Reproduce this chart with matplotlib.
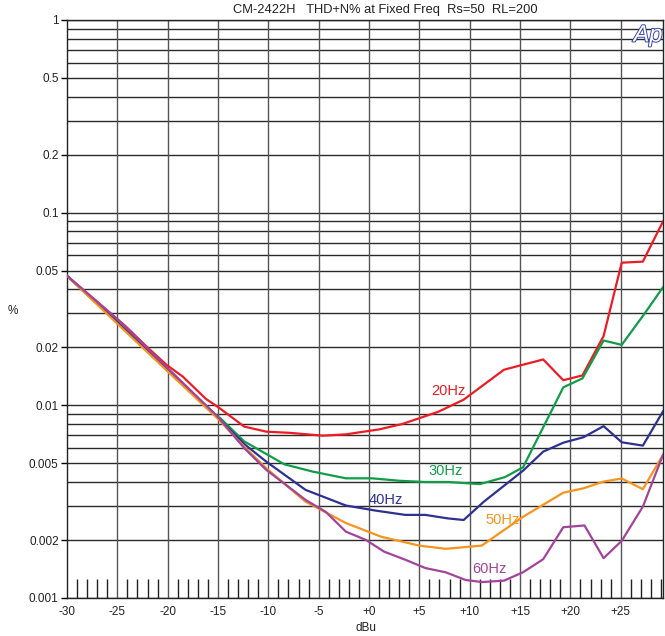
import numpy as np
import matplotlib
matplotlib.use("Agg")
import matplotlib.pyplot as plt
import matplotlib.patheffects as pe

plt.rcParams['font.family'] = ['Liberation Sans', 'DejaVu Sans']

# === Data (dBu, THD+N %) ===
x_20 = [-30, -24.2, -22.1, -20.1, -18.5, -16.2, -15, -12.4, -10.2, -7.9, -4.6, -2.3, 1.0, 3.3, 6.9, 9.4, 13.4, 15.2, 17.3, 19.3, 21.2, 23.3, 25.1, 27.2, 29.2]
y_20 = [0.047, 0.0258, 0.0202, 0.0162, 0.0141, 0.0108, 0.0098, 0.00776, 0.0073, 0.0072, 0.00696, 0.00707, 0.0075, 0.0080, 0.00927, 0.0107, 0.0153, 0.0162, 0.0173, 0.0135, 0.0143, 0.0229, 0.055, 0.0557, 0.09]

x_30 = [-30, -25, -20, -15, -14.8, -12.4, -8.4, -5.6, -2.3, 0.3, 3.0, 5.6, 7.9, 11.0, 13.5, 15.3, 19.3, 21.2, 23.3, 25.1, 27.2, 29.2]
y_30 = [0.047, 0.027, 0.0153, 0.0087, 0.0086, 0.0065, 0.00494, 0.00453, 0.00418, 0.00418, 0.00406, 0.0040, 0.0040, 0.0039, 0.00424, 0.00477, 0.0124, 0.0138, 0.0217, 0.0206, 0.0291, 0.041]

x_40 = [-30, -25, -20, -15, -12.4, -10.2, -6.3, -2.3, 0.7, 3.6, 5.6, 7.8, 9.4, 11.4, 15.3, 17.3, 19.3, 21.3, 23.3, 25.1, 27.2, 29.2]
y_40 = [0.047, 0.027, 0.0153, 0.0086, 0.0063, 0.0051, 0.00364, 0.00302, 0.00284, 0.0027, 0.0027, 0.00259, 0.00254, 0.00316, 0.00458, 0.00575, 0.0064, 0.00683, 0.0078, 0.00643, 0.00618, 0.0093]

x_50 = [-30, -25, -20, -15, -12.4, -10.2, -6.3, -2.3, 1.2, 5.0, 7.6, 11.2, 15.3, 19.3, 21.3, 23.3, 25.1, 27.2, 29.2]
y_50 = [0.047, 0.0265, 0.015, 0.0085, 0.0061, 0.00471, 0.00316, 0.00245, 0.00208, 0.00187, 0.0018, 0.00187, 0.00264, 0.00352, 0.00371, 0.00402, 0.00417, 0.00367, 0.00553]

x_60 = [-30, -25, -20, -15, -12.4, -10.2, -6.3, -4.3, -2.3, -0.3, 1.5, 3.6, 5.6, 7.6, 9.6, 11.2, 13.4, 15.3, 17.3, 19.3, 21.4, 23.3, 25.1, 27.2, 29.2]
y_60 = [0.047, 0.028, 0.0156, 0.0087, 0.006, 0.00462, 0.00323, 0.0028, 0.00221, 0.002, 0.00174, 0.00158, 0.00143, 0.00136, 0.00124, 0.00121, 0.00123, 0.00136, 0.00159, 0.00233, 0.00238, 0.00161, 0.00198, 0.00298, 0.00553]

series = [
    ("20Hz", x_20, y_20, "#ed1c24", (7.9, 0.0119)),
    ("30Hz", x_30, y_30, "#0f9d48", (7.6, 0.00456)),
    ("40Hz", x_40, y_40, "#2e3192", (1.7, 0.00323)),
    ("50Hz", x_50, y_50, "#f7941d", (13.3, 0.00254)),
    ("60Hz", x_60, y_60, "#a3449b", (12.0, 0.00142)),
]

ytick_vals = [1, 0.5, 0.2, 0.1, 0.05, 0.02, 0.01, 0.005, 0.002, 0.001]
ytick_labels = ["1", "0.5", "0.2", "0.1", "0.05", "0.02", "0.01", "0.005", "0.002", "0.001"]
xtick_vals = [-30, -25, -20, -15, -10, -5, 0, 5, 10, 15, 20, 25]
xtick_labels = ["-30", "-25", "-20", "-15", "-10", "-5", "+0", "+5", "+10", "+15", "+20", "+25"]

# === Figure ===
fig = plt.figure(figsize=(6.65, 6.36), dpi=100)
ax = fig.add_axes([67 / 665, 38 / 636, 596 / 665, 578 / 636])
ax.set_yscale("log")
ax.set_xlim(-30, 29.2)
ax.set_ylim(0.001, 1)

# horizontal grid at every decade step
for dec in [0.001, 0.01, 0.1]:
    for m in range(1, 10):
        ax.axhline(dec * m, color="#2a2a2a", lw=1.0, zorder=1)
ax.axhline(1, color="#2a2a2a", lw=1.0, zorder=1)
for xv in xtick_vals[1:]:
    ax.axvline(xv, color="#555555", lw=1.0, zorder=1)

for name, xs, ys, col, (lx, ly) in series:
    ax.plot(xs, ys, color=col, lw=1.6, zorder=3)
    ax.text(lx, ly, name, color=col, fontsize=10.5, ha="center", va="center", zorder=4)

ax.set_yticks(ytick_vals)
ax.set_yticklabels(ytick_labels)
ax.yaxis.set_minor_locator(matplotlib.ticker.NullLocator())
ax.set_xticks(xtick_vals)
ax.set_xticklabels(xtick_labels)
ax.set_xticks([v for v in range(-29, 30) if v % 5 != 0], minor=True)
ax.tick_params(axis="x", which="minor", direction="in", length=14, width=1.0, color="#222222")
ax.tick_params(axis="x", which="major", length=0, labelsize=8.5, pad=6, labelcolor="#222222")
ax.tick_params(axis="y", which="major", length=4, width=1.0, labelsize=8.5, pad=2, labelcolor="#222222")

for s in ax.spines.values():
    s.set_color("#222222")
    s.set_linewidth(1.0)

fig.text(13 / 665, 1 - 311 / 636, "%", fontsize=8.5, ha="center", va="center", color="#222222")
fig.text(366 / 665, 1 - 628 / 636, "dBu", fontsize=8.5, ha="center", va="center", color="#222222")
fig.text(385 / 665, 1 - 10 / 636, "CM-2422H   THD+N% at Fixed Freq  Rs=50  RL=200",
         fontsize=9.3, ha="center", va="center", color="#222222")

# Ap logo
logo = fig.text(648 / 665, 1 - 35 / 636, "Ap", fontsize=17, ha="center", va="center",
                color="white", style="italic")
logo.set_path_effects([pe.Stroke(linewidth=1.4, foreground="#3a46a8"), pe.Normal()])

fig.savefig("out.png", dpi=100)
